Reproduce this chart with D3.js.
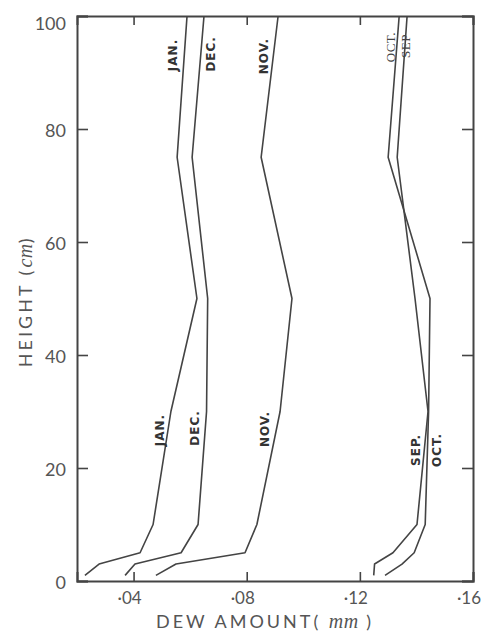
<!DOCTYPE html>
<html>
<head>
<meta charset="utf-8">
<script src="https://cdn.jsdelivr.net/npm/d3@7"></script>
<style>
  html, body { margin: 0; padding: 0; background: #fff; }
  svg { display: block; }
  .tick-label { font-family: Lato, 'DejaVu Sans', sans-serif; fill: #555; }
  .month { font-family: 'DejaVu Sans', sans-serif; font-weight: bold; fill: #333; }
  .month-serif { font-family: 'Liberation Serif', serif; fill: #444; }
</style>
</head>
<body>
<div id="chart"></div>
<script>
// Dew amount (mm) at each height (cm), one series per month
const heights = [1, 3, 5, 10, 30, 50, 75, 100];
const janValues = [0.0228, 0.0278, 0.0423, 0.0469, 0.0532, 0.0624, 0.0554, 0.0589];
const decValues = [0.0370, 0.0405, 0.0568, 0.0628, 0.0658, 0.0662, 0.0607, 0.0649];
const novValues = [0.0479, 0.0550, 0.0794, 0.0836, 0.0918, 0.0960, 0.0851, 0.0911];
const sepValues = [0.1249, 0.1252, 0.1317, 0.1402, 0.1441, 0.1395, 0.1332, 0.1367];
const octValues = [0.1289, 0.1349, 0.1392, 0.1431, 0.1443, 0.1448, 0.1300, 0.1339];

const xTicks = [0.04, 0.08, 0.12, 0.16];
const xTickLabels = ['·04', '·08', '·12', '·16'];
const yTicks = [0, 20, 40, 60, 80, 100];

const Chart = {
  init() {
    this.wrapper = document.querySelector('#chart');
    this.series = [
      { name: 'JAN.', values: janValues },
      { name: 'DEC.', values: decValues },
      { name: 'NOV.', values: novValues },
      { name: 'SEP.', values: sepValues },
      { name: 'OCT.', values: octValues },
    ];

    this.setVar();
    this.create();
    this.scales();
    this.axis();
    this.createPaths();
    this.createLabels();
  },

  setVar() {
    this.ink = '#444';
    this.margin = { left: 77, right: 8, top: 16, bottom: 51 };
    this.width = 481 - this.margin.left - this.margin.right;
    this.height = 632 - this.margin.top - this.margin.bottom;
  },

  create() {
    this.svg = d3.select('#chart').append('svg')
      .attr('width', 481)
      .attr('height', 632);

    this.g = this.svg.append('g')
      .attr('transform', `translate(${this.margin.left} ${this.margin.top})`);
  },

  scales() {
    this.x = d3.scaleLinear()
      .domain([0.02, 0.16])
      .range([0, this.width]);

    this.y = d3.scaleLinear()
      .domain([0, 100])
      .range([this.height, 0]);
  },

  axis() {
    const { x, y, width, height } = this;

    // inner ticks on all four sides, no labels on top/right
    const ax = d3.axisBottom(x).tickValues(xTicks).tickSize(-9).tickFormat('');
    const axTop = d3.axisTop(x).tickValues(xTicks).tickSize(-9).tickFormat('');
    const ay = d3.axisLeft(y).tickValues(yTicks).tickSize(-11).tickFormat('');
    const ayRight = d3.axisRight(y).tickValues(yTicks).tickSize(-11).tickFormat('');

    const calls = [
      this.g.append('g').attr('transform', `translate(0, ${height})`).call(ax),
      this.g.append('g').call(axTop),
      this.g.append('g').call(ay),
      this.g.append('g').attr('transform', `translate(${width}, 0)`).call(ayRight),
    ];

    calls.forEach((c) => {
      c.selectAll('path').attr('stroke', this.ink).attr('stroke-width', 2);
      c.selectAll('line').attr('stroke', this.ink).attr('stroke-width', 1.6);
    });

    // tick labels
    this.g.selectAll('.x-label')
      .data(xTicks)
      .join('text')
      .attr('class', 'tick-label x-label')
      .attr('x', (d) => x(d) - 4)
      .attr('y', height + 23)
      .attr('text-anchor', 'middle')
      .attr('font-size', '17px')
      .text((d, i) => xTickLabels[i]);

    this.g.selectAll('.y-label')
      .data(yTicks)
      .join('text')
      .attr('class', 'tick-label y-label')
      .attr('x', -11)
      .attr('y', (d) => y(d) + (d === 100 ? 7 : 1))
      .attr('text-anchor', 'end')
      .attr('dominant-baseline', 'central')
      .attr('font-size', '18px')
      .text((d) => d);

    // axis titles
    const xt = this.g.append('text')
      .attr('class', 'tick-label')
      .attr('x', x(0.0865))
      .attr('y', height + 47)
      .attr('text-anchor', 'middle')
      .attr('font-size', '18px')
      .attr('letter-spacing', '3px');
    xt.append('tspan').text('DEW AMOUNT( ');
    xt.append('tspan').attr('font-style', 'italic').attr('font-family', "'Liberation Serif', serif").attr('font-size', '20px').attr('letter-spacing', '0.5px').text('mm');
    xt.append('tspan').text(' )');

    const yt = this.g.append('text')
      .attr('class', 'tick-label')
      .attr('transform', `translate(${32 - this.margin.left}, ${y(49.5)}) rotate(-90)`)
      .attr('text-anchor', 'middle')
      .attr('font-size', '18px')
      .attr('letter-spacing', '3px');
    yt.append('tspan').text('HEIGHT (');
    yt.append('tspan').attr('font-style', 'italic').attr('font-family', "'Liberation Serif', serif").attr('font-size', '20px').attr('letter-spacing', '0.5px').text('cm');
    yt.append('tspan').text(')');
  },

  createPaths() {
    const line = d3.line()
      .x((d) => this.x(d.v))
      .y((d) => this.y(d.h))
      .curve(d3.curveLinear);

    this.g.selectAll('.month-path')
      .data(this.series)
      .join('path')
      .attr('class', 'month-path')
      .attr('fill', 'none')
      .attr('stroke', this.ink)
      .attr('stroke-width', 1.6)
      .attr('stroke-linejoin', 'round')
      .attr('d', (s) => line(s.values.map((v, i) => ({ v, h: heights[i] }))));
  },

  createLabels() {
    // annotation spots in data units
    const labels = [
      { text: 'JAN.', v: 0.0539, h: 93.1 },
      { text: 'DEC.', v: 0.0674, h: 93.3 },
      { text: 'NOV.', v: 0.0861, h: 92.9 },
      { text: 'OCT.', v: 0.1307, h: 94.5, serif: true },
      { text: 'SEP', v: 0.1360, h: 94.7, serif: true },
      { text: 'JAN.', v: 0.0493, h: 26.7 },
      { text: 'DEC.', v: 0.0617, h: 27.1 },
      { text: 'NOV.', v: 0.0865, h: 26.9 },
      { text: 'SEP.', v: 0.1399, h: 23.2 },
      { text: 'OCT.', v: 0.1473, h: 23.2 },
    ];

    this.g.selectAll('.month')
      .data(labels)
      .join('text')
      .attr('class', (d) => (d.serif ? 'month-serif' : 'month'))
      .attr('transform', (d) => `translate(${this.x(d.v)}, ${this.y(d.h)}) rotate(-90)`)
      .attr('text-anchor', 'middle')
      .attr('dominant-baseline', 'central')
      .attr('font-size', (d) => (d.serif ? '13px' : '12px'))
      .attr('letter-spacing', (d) => (d.serif ? '0.5px' : '1px'))
      .text((d) => d.text);
  },
};

Chart.init();
</script>
</body>
</html>
